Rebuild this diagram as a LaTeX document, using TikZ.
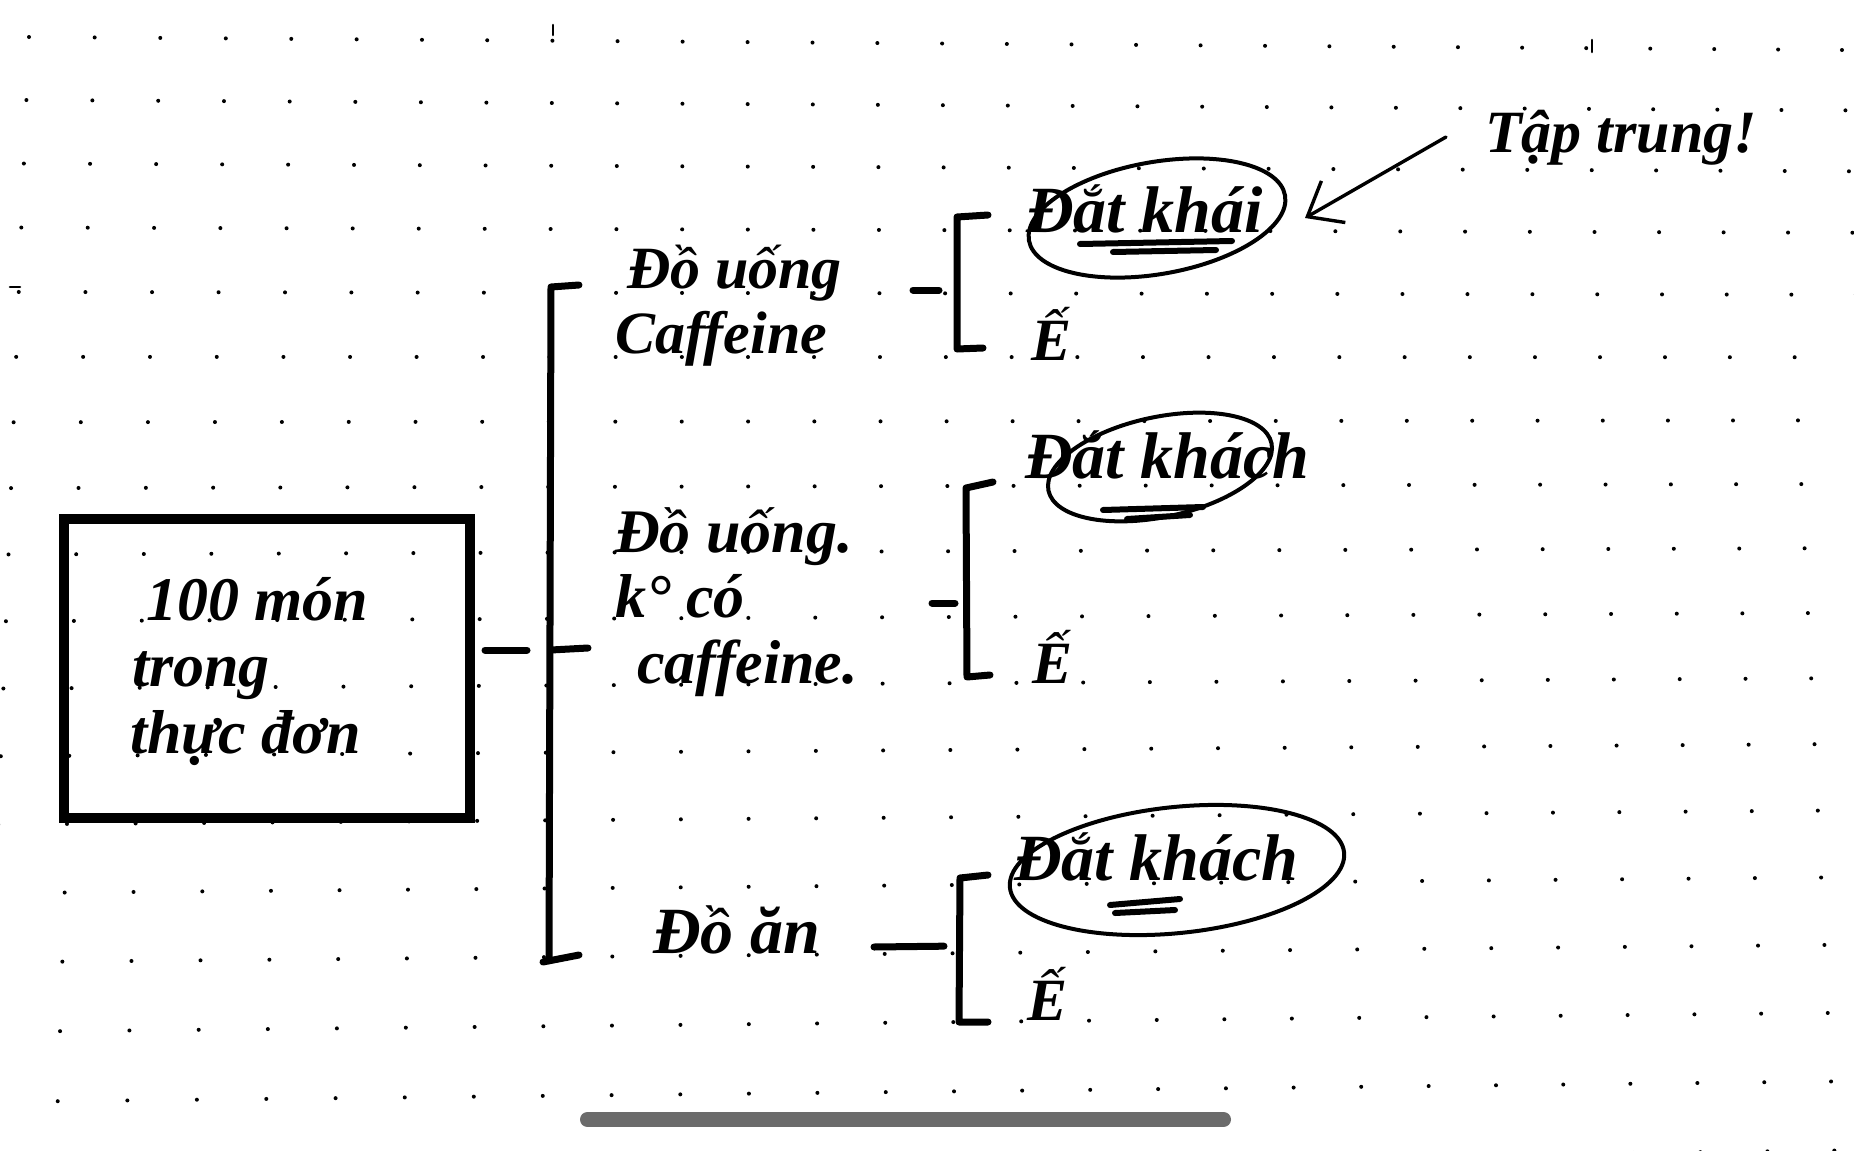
\documentclass[tikz,border=0pt]{standalone}
\usepackage{fontspec}
\setmainfont{Liberation Serif}
\usetikzlibrary{shapes.geometric,arrows.meta,calc}
\definecolor{barcolor}{HTML}{6B6B6B}
\begin{document}
\begin{tikzpicture}[x=0.5pt,y=-0.5pt,
  hand/.style={inner sep=0pt, outer sep=0pt, anchor=base west},
  fboxtxt/.style={hand, font=\fontsize{31}{33.25}\selectfont\bfseries\itshape},
  fcatA/.style={hand, font=\fontsize{30}{32.5}\selectfont\bfseries\itshape},
  fcatB/.style={hand, font=\fontsize{31}{32.75}\selectfont\bfseries\itshape},
  fcatC/.style={hand, font=\fontsize{33}{36}\selectfont\bfseries\itshape},
  fleaf/.style={hand, font=\fontsize{33}{36}\selectfont\bfseries\itshape},
  fbad/.style={hand, font=\fontsize{30}{33}\selectfont\bfseries\itshape},
  fnote/.style={hand, font=\fontsize{30}{33}\selectfont\bfseries\itshape},
  stroke/.style={line width=3.5pt, line cap=round, line join=round},
  mainbox/.style={draw, line width=5pt, minimum width=203pt, minimum height=149.5pt, inner sep=0pt},
  oval/.style={ellipse, draw, line width=2pt, inner sep=0pt},
  ul/.style={line width=3pt, line cap=round},
  arr/.style={line width=1.7pt, line cap=round, -{Straight Barb[length=15pt,width=24pt]}},
  strayline/.style={line width=1.3pt, line cap=round}
]
\useasboundingbox (0,0) rectangle (1854,1151);
\fill[white] (0,0) rectangle (1854,1151);
\clip (0,0) rectangle (1854,1151);

% dotted paper
\foreach \i in {0,...,28} {
  \foreach \j in {0,...,17} {
    \pgfmathsetmacro\u{\i/28}
    \pgfmathsetmacro\v{\j/16}
    \pgfmathsetmacro\xT{29+65.7*\i-0.034*\i*\i}
    \pgfmathsetmacro\xB{-12+69.8*\i-0.057*\i*\i}
    \pgfmathsetmacro\yL{37+62.8*\j+0.235*\j*\j}
    \pgfmathsetmacro\yR{50+60.1*\j+0.27*\j*\j}
    \pgfmathsetmacro\xx{\xT*(1-\v)+\xB*\v}
    \pgfmathsetmacro\yy{\yL*(1-\u)+\yR*\u}
    \fill[black] (\xx,\yy) circle[radius=2];
  }
}
\draw[strayline] (553,25) -- (553,35);
\draw[strayline] (1592,40) -- (1592,52);
\draw[strayline] (10,287) -- (20,287);

% main box
\node[mainbox] (box) at (267,668.5) {};
\node[fboxtxt] (boxtext) at (130,620) {\begin{tabular}[t]{@{}l@{}}\hspace*{8pt}100 món\\\hspace*{1pt}trong\\thực đơn\end{tabular}};

% main bracket
\coordinate (mb) at (551,650);
\draw[stroke] (579,285) -- (551,287) -- (549,960);
\draw[stroke] (543,962) -- (579,955);
\draw[stroke] (mb) -- (588,648);
\draw[stroke, shorten <=5pt, shorten >=12pt] (box.east |- mb) -- (mb);

% categories
\node[fcatA] (cat1) at (615,288) {\begin{tabular}[t]{@{}l@{}}\hspace*{6pt}Đồ uống\\Caffeine\end{tabular}};
\node[fcatB] (cat2) at (615,552) {\begin{tabular}[t]{@{}l@{}}Đồ uống.\\k° có\\\hspace*{11pt}caffeine.\end{tabular}};
\node[fcatC] (cat3) at (653,953) {Đồ ăn};

% sub-brackets
\coordinate (s1) at (957,290);
\draw[stroke] (988,215) -- (957,217) -- (957,349) -- (983,348);
\draw[stroke, shorten >=9pt] ($(s1)+(-44,0)$) -- (s1);

\coordinate (s2) at (967,603);
\draw[stroke] (993,482) -- (966,488) -- (967,677) -- (990,675);
\draw[stroke, shorten >=6pt] ($(s2)+(-35,0)$) -- (s2);

\coordinate (s3) at (959,946);
\draw[stroke] (988,875) -- (960,878) -- (959,1022) -- (988,1022);
\draw[stroke, shorten >=7.5pt] ($(s3)+(-85,1)$) -- (s3);

% leaves
\node[oval, minimum width=130pt, minimum height=56pt, rotate=10] (o1) at (1157,218) {};
\node[fleaf] (l1a) at (1026,232) {Đắt khái};
\draw[ul] (1080,244) -- (1232,241);
\draw[ul] (1113,252) -- (1216,250);
\node[fbad] (l1b) at (1031,360) {Ế};

\node[oval, minimum width=114pt, minimum height=50pt, rotate=12] (o2) at (1160,467) {};
\node[fleaf] (l2a) at (1025,478) {Đắt khách};
\draw[ul] (1103,510) -- (1203,507);
\draw[ul] (1127,519) -- (1190,515);
\node[fbad] (l2b) at (1032,683) {Ế};

\node[oval, minimum width=168pt, minimum height=63pt, rotate=6] (o3) at (1177,870) {};
\node[fleaf] (l3a) at (1014,880) {Đắt khách};
\draw[ul] (1110,905) -- (1180,899);
\draw[ul] (1115,913) -- (1175,910);
\node[fbad] (l3b) at (1027,1020) {Ế};

% note and arrow
\node[fnote] (tap) at (1485,152) {Tập trung!};
\coordinate (tip) at (1305,218);
\draw[arr] ([shift={(-39,-15)}]tap.base west) -- (tip);

% scroll bar
\draw[line width=7.5pt, line cap=round, barcolor] (587.5,1119.5) -- (1223.5,1119.5);
\end{tikzpicture}
\end{document}
